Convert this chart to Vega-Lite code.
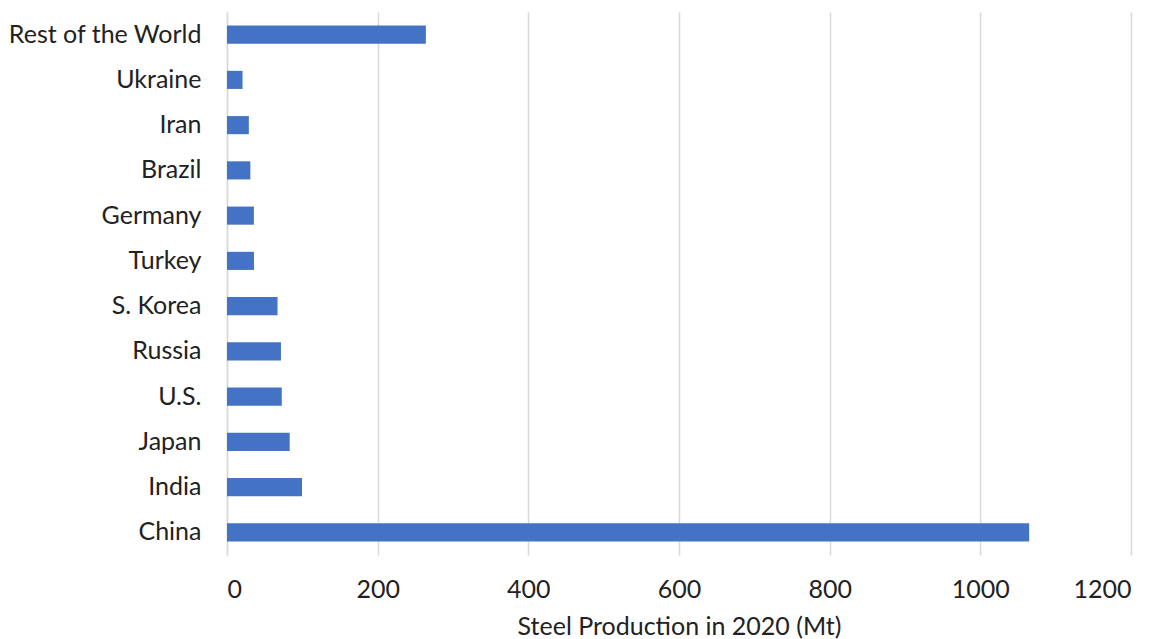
{
  "$schema": "https://vega.github.io/schema/vega-lite/v6.json",
  "autosize": "none",
  "width": 904,
  "height": 543,
  "padding": {"left": 227, "top": 12, "right": 35, "bottom": 84},
  "background": "white",
  "data": {
    "values": [
      {"country": "Rest of the World", "value": 264},
      {"country": "Ukraine", "value": 20.6},
      {"country": "Iran", "value": 29},
      {"country": "Brazil", "value": 31},
      {"country": "Germany", "value": 35.7},
      {"country": "Turkey", "value": 35.8},
      {"country": "S. Korea", "value": 67.1},
      {"country": "Russia", "value": 71.6},
      {"country": "U.S.", "value": 72.7},
      {"country": "Japan", "value": 83.2},
      {"country": "India", "value": 99.6},
      {"country": "China", "value": 1064.8}
    ]
  },
  "config": {
    "view": {"stroke": null},
    "font": "Lato"
  },
  "mark": {"type": "bar", "color": "#4472C4"},
  "encoding": {
    "y": {
      "field": "country",
      "type": "nominal",
      "sort": null,
      "scale": {"paddingInner": 0.6, "paddingOuter": 0.3},
      "axis": {
        "title": null,
        "ticks": false,
        "domain": true,
        "domainColor": "#d9d9d9",
        "domainWidth": 1.5,
        "labelFont": "Lato",
        "labelFontSize": 25,
        "labelColor": "#222222",
        "labelPadding": 26,
        "labelLimit": 400
      }
    },
    "x": {
      "field": "value",
      "type": "quantitative",
      "scale": {"domain": [0, 1200], "nice": false},
      "axis": {
        "values": [0, 200, 400, 600, 800, 1000, 1200],
        "format": "d",
        "title": "Steel Production in 2020 (Mt)",
        "titleFont": "Lato",
        "titleFontSize": 25,
        "titleFontWeight": "normal",
        "titleColor": "#222222",
        "titlePadding": 12,
        "domain": false,
        "ticks": false,
        "grid": true,
        "gridColor": "#d9d9d9",
        "gridWidth": 1.5,
        "labelFont": "Lato",
        "labelFontSize": 25,
        "labelColor": "#222222",
        "labelPadding": 22
      }
    }
  }
}
